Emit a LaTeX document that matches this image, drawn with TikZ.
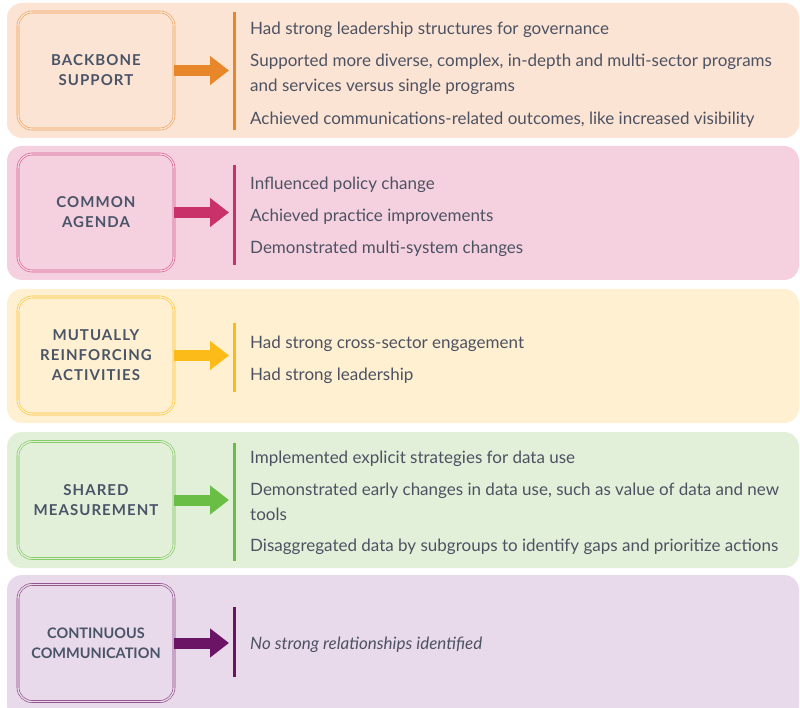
\documentclass[tikz,border=0pt]{standalone}
\usepackage{fontspec}
\setmainfont{Lato}
\newfontfamily\labelfont[LetterSpace=7]{Lato}
\usetikzlibrary{arrows.meta}
\definecolor{txt}{HTML}{4D5263}
\definecolor{lbl}{HTML}{4A5468}
\definecolor{bgA}{HTML}{FBE4D3}\definecolor{acA}{HTML}{E8872A}
\definecolor{bgB}{HTML}{F5D1E0}\definecolor{acB}{HTML}{C9316B}
\definecolor{bgC}{HTML}{FEF0D0}\definecolor{acC}{HTML}{FDBB1A}
\definecolor{bgD}{HTML}{E2F0D9}\definecolor{acD}{HTML}{6BBE45}
\definecolor{bgE}{HTML}{E8DAEA}\definecolor{acE}{HTML}{6B1466}
\tikzset{
  panel/.style={rectangle, rounded corners=15pt, minimum width=792pt, inner sep=0pt},
  catbox/.style={rectangle, rounded corners=14pt, minimum width=156pt, minimum height=117pt,
    line width=0.6pt, double distance=1.4pt, align=center, text=lbl,
    font=\labelfont\bfseries\fontsize{15}{20}\selectfont},
  bigarrow/.style={line width=11pt, -{Triangle[length=19pt,width=28pt]}},
  bar/.style={line width=3pt},
  item/.style={anchor=west, inner sep=0pt, text=txt, align=left, yshift=-2pt,
    font=\fontsize{17}{25}\selectfont}
}
\begin{document}
\begin{tikzpicture}[x=1pt,y=-1pt]
\clip (0,0) rectangle (800,708);
\fill[white] (0,0) rectangle (800,708);
% Panel 1
\node[panel, fill=bgA, minimum height=135pt] (p1) at (403,70.5) {};
\node[catbox, draw=acA!80, double=bgA] (b1) at (96,70.5) {BACKBONE\\SUPPORT};
\coordinate (t1) at (229,70.5);
\coordinate (s1) at (234,12); \coordinate (e1) at (234,130);
\draw[bigarrow, acA] (b1.east) -- (t1);
\draw[bar, acA] (s1) -- (e1);
\node[item] (i11) at (250,28) {Had strong leadership structures for governance};
\node[item] (i12) at (250,72.5) {Supported more diverse, complex, in-depth and multi-sector programs\\and services versus single programs};
\node[item] (i13) at (250,118) {Achieved communications-related outcomes, like increased visibility};
% Panel 2
\node[panel, fill=bgB, minimum height=134pt] (p2) at (403,213) {};
\node[catbox, draw=acB!80, double=bgB] (b2) at (96,212.5) {COMMON\\AGENDA};
\coordinate (t2) at (229,212.5);
\coordinate (s2) at (234,165); \coordinate (e2) at (234,265);
\draw[bigarrow, acB] (b2.east) -- (t2);
\draw[bar, acB] (s2) -- (e2);
\node[item] (i21) at (250,183) {Influenced policy change};
\node[item] (i22) at (250,215) {Achieved practice improvements};
\node[item] (i23) at (250,247) {Demonstrated multi-system changes};
% Panel 3
\node[panel, fill=bgC, minimum height=134pt] (p3) at (403,356) {};
\node[catbox, draw=acC!90, double=bgC] (b3) at (96,355.5) {MUTUALLY\\REINFORCING\\ACTIVITIES};
\coordinate (t3) at (229,355.5);
\coordinate (s3) at (234,323); \coordinate (e3) at (234,392);
\draw[bigarrow, acC] (b3.east) -- (t3);
\draw[bar, acC] (s3) -- (e3);
\node[item] (i31) at (250,342) {Had strong cross-sector engagement};
\node[item] (i32) at (250,374) {Had strong leadership};
% Panel 4
\node[panel, fill=bgD, minimum height=136pt] (p4) at (403,500) {};
\node[catbox, draw=acD!90, double=bgD] (b4) at (96,500) {SHARED\\MEASUREMENT};
\coordinate (t4) at (229,500);
\coordinate (s4) at (234,443); \coordinate (e4) at (234,561);
\draw[bigarrow, acD] (b4.east) -- (t4);
\draw[bar, acD] (s4) -- (e4);
\node[item] (i41) at (250,457) {Implemented explicit strategies for data use};
\node[item] (i42) at (250,499.5) {Demonstrated early changes in data use, such as value of data and new\\tools};
\node[item] (i43) at (250,545) {Disaggregated data by subgroups to identify gaps and prioritize actions};
% Panel 5
\node[panel, fill=bgE, minimum height=145pt] (p5) at (403,647.5) {};
\node[catbox, draw=acE!80, double=bgE, font=\bfseries\fontsize{14.5}{20}\selectfont] (b5) at (96,643) {CONTINUOUS\\COMMUNICATION};
\coordinate (t5) at (229,643);
\coordinate (s5) at (234,607); \coordinate (e5) at (234,677);
\draw[bigarrow, acE] (b5.east) -- (t5);
\draw[bar, acE] (s5) -- (e5);
\node[item, font=\itshape\fontsize{17}{25}\selectfont] (i51) at (250,643) {No strong relationships identified};
\end{tikzpicture}
\end{document}
